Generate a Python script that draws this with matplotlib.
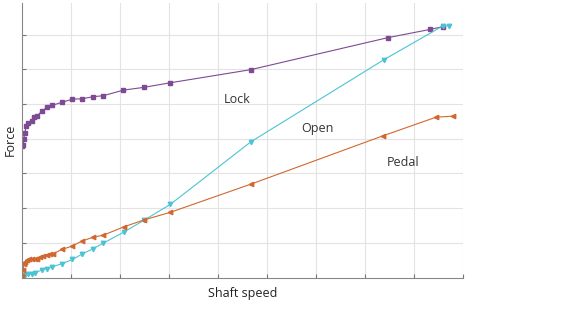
import matplotlib.pyplot as plt

# Lock
lock_x = [0.0, 0.027, 0.035, 0.055, 0.088, 0.13, 0.21, 0.25, 0.31, 0.41, 0.51, 0.61, 0.82,
          1.03, 1.22, 1.45, 1.66, 2.07, 2.49, 3.02, 4.67, 7.46, 8.33, 8.59]
lock_y = [3.78, 3.82, 3.98, 4.16, 4.37, 4.44, 4.52, 4.62, 4.66, 4.80, 4.90, 4.96, 5.05,
          5.14, 5.15, 5.21, 5.24, 5.40, 5.48, 5.61, 5.99, 6.91, 7.15, 7.23]

# Open
open_x = [0.0, 0.027, 0.06, 0.13, 0.20, 0.27, 0.41, 0.50, 0.62, 0.82, 1.03, 1.22, 1.45,
          1.66, 2.08, 2.49, 3.03, 4.67, 7.39, 8.59, 8.72]
open_y = [0.02, 0.035, 0.07, 0.09, 0.11, 0.14, 0.22, 0.25, 0.31, 0.40, 0.52, 0.67, 0.83,
          0.99, 1.31, 1.65, 2.11, 3.91, 6.28, 7.25, 7.25]

# Pedal
pedal_x = [0.0, 0.027, 0.04, 0.06, 0.10, 0.15, 0.20, 0.27, 0.30, 0.37, 0.43, 0.50, 0.57,
           0.64, 0.82, 1.03, 1.22, 1.45, 1.66, 2.08, 2.49, 3.03, 4.67, 7.36, 8.45, 8.80]
pedal_y = [0.05, 0.22, 0.39, 0.46, 0.50, 0.52, 0.53, 0.54, 0.53, 0.59, 0.62, 0.65, 0.67,
           0.69, 0.81, 0.91, 1.05, 1.16, 1.22, 1.46, 1.66, 1.88, 2.69, 4.08, 4.62, 4.65]

plt.rcParams['font.family'] = ['Open Sans', 'DejaVu Sans']

fig = plt.figure(figsize=(5.65, 3.25), dpi=100)
ax = fig.add_axes([22 / 565, 1 - 277.5 / 325, 441 / 565, 274.5 / 325])

ax.plot(lock_x, lock_y, color='#7D4A93', marker='s', markersize=2.3, linewidth=0.8)
ax.plot(open_x, open_y, color='#4CC3D3', marker='v', markersize=3.2, linewidth=0.8)
ax.plot(pedal_x, pedal_y, color='#D2672F', marker='<', markersize=3.2, linewidth=0.8)

ax.text(4.4, 5.14, "Lock", ha='center', va='center', fontsize=9, color='#333333')
ax.text(6.02, 4.28, "Open", ha='center', va='center', fontsize=9, color='#333333')
ax.text(7.78, 3.3, "Pedal", ha='center', va='center', fontsize=9, color='#333333')

ax.set_xlim(0, 9)
ax.set_ylim(0, 274.5 / 34.7)
ax.set_xticks(range(1, 10))
ax.set_yticks(range(1, 8))
ax.set_xticklabels([])
ax.set_yticklabels([])
ax.tick_params(direction='in', length=3, color='#777777', width=0.8)
ax.grid(True, color='#e3e3e3', linewidth=0.8)
ax.set_axisbelow(True)

ax.spines['top'].set_visible(False)
ax.spines['right'].set_visible(False)
ax.spines['left'].set_color('#888888')
ax.spines['bottom'].set_color('#888888')

ax.set_xlabel("Shaft speed", fontsize=9, color='#222222', labelpad=3)
ax.set_ylabel("Force", fontsize=9, color='#222222', labelpad=0)

plt.savefig("out.png", dpi=100)
